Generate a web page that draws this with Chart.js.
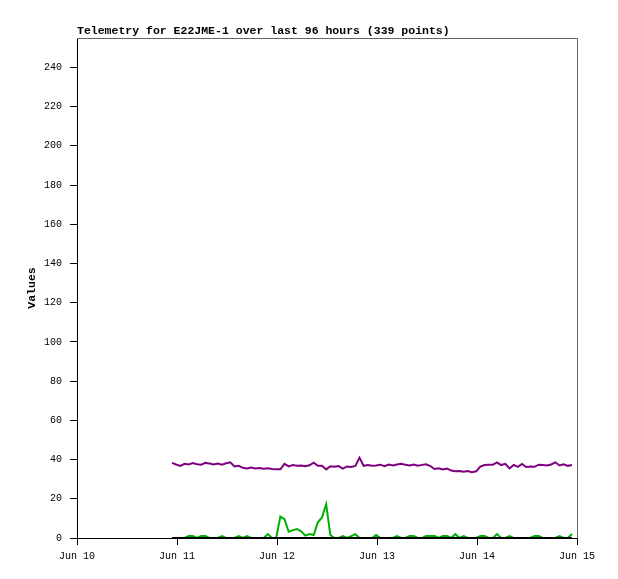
<!DOCTYPE html>
<html>
<head>
<meta charset="utf-8">
<script src="https://cdn.jsdelivr.net/npm/chart.js@4/dist/chart.umd.min.js"></script>
<style>
  html, body { margin: 0; padding: 0; background: #fff; }
  canvas { display: block; }
</style>
</head>
<body>
<canvas id="chart" width="618" height="579"></canvas>
<script>
// telemetry, one sample per hour starting Jun 10 ~22:50
var START_DAY = 10.95;
var STEP_DAYS = 1 / 24;

var purpleValues = [
  38.3, 37.5, 36.8, 37.8, 37.5, 38.2, 37.6, 37.4, 38.3, 38.0,
  37.5, 38.0, 37.4, 38.1, 38.6, 36.5, 36.8, 35.8, 35.5, 35.9,
  35.5, 35.7, 35.3, 35.6, 35.2, 35.0, 35.0, 37.8, 36.5, 37.2,
  36.8, 37.0, 36.6, 37.1, 38.4, 36.8, 36.9, 35.0, 36.6, 36.3,
  36.7, 35.4, 36.5, 36.2, 36.8, 41.0, 36.8, 37.2, 36.8, 37.0,
  37.4, 36.6, 37.5, 37.0, 37.5, 37.8, 37.4, 37.0, 37.5, 36.9,
  37.3, 37.6, 36.7, 35.2, 35.6, 34.9, 35.4, 34.4, 34.0, 34.2,
  33.8, 34.2, 33.6, 34.0, 36.4, 37.2, 37.3, 37.4, 38.6, 37.2,
  37.8, 35.5, 37.3, 36.3, 37.8, 36.2, 36.5, 36.3, 37.4, 37.2,
  37.0, 37.5, 38.6, 37.0, 37.6, 36.8, 37.2
];

var greenValues = [
  0, 0, 0, 0, 1, 1, 0, 1, 1, 0,
  0, 0, 1, 0, 0, 0, 1, 0, 1, 0,
  0, 0, 0, 2, 0, 0, 10.9, 9.6, 3.2, 4.0,
  4.6, 3.4, 1.2, 2.0, 1.5, 8.0, 10.5, 17.2, 1.5, 0,
  0, 1, 0, 1, 2, 0, 0, 0, 0, 1.5,
  0, 0, 0, 0, 1, 0, 0, 1, 1, 0,
  0, 1, 1, 1, 0, 1, 1, 0, 2, 0,
  1, 0, 0, 0, 1, 1, 0, 0, 2, 0,
  0, 1, 0, 0, 0, 0, 0, 1, 1, 0,
  0, 0, 0, 1, 0, 0, 2
];

var blackValues = [
  0, 0, 0, 0, 0, 0, 0, 0, 0, 0,
  0, 0, 0, 0, 0, 0, 0, 0, 0, 0,
  0, 0, 0, 0, 0, 0, 0, 0, 0, 0,
  0, 0, 0, 0, 0, 0, 0, 0, 0, 0,
  0, 0, 0, 0, 0, 0, 0, 0, 0, 0,
  0, 0, 0, 0, 0, 0, 0, 0, 0, 0,
  0, 0, 0, 0, 0, 0, 0, 0, 0, 0,
  0, 0, 0, 0, 0, 0, 0, 0, 0, 0,
  0, 0, 0, 0, 0, 0, 0, 0, 0, 0,
  0, 0, 0, 0, 0, 0, 0
];

var dayTicks = [10, 11, 12, 13, 14, 15];
var monthName = 'Jun';

var TITLE = 'Telemetry for E22JME-1 over last 96 hours (339 points)';

function toPoints(values) {
  return values.map(function (v, i) {
    return { x: START_DAY + i * STEP_DAYS, y: v };
  });
}

// gray frame on top/right and the title, like the original image
var framePlugin = {
  id: 'frame',
  beforeDatasetsDraw: function (chart) {
    var ctx = chart.ctx, a = chart.chartArea;
    ctx.save();
    ctx.strokeStyle = '#666';
    ctx.lineWidth = 1;
    ctx.beginPath();
    ctx.moveTo(a.left, a.top + 0.5);
    ctx.lineTo(a.right + 0.5, a.top + 0.5);
    ctx.lineTo(a.right + 0.5, a.bottom);
    ctx.stroke();
    ctx.restore();
  },
  afterDraw: function (chart) {
    var ctx = chart.ctx, a = chart.chartArea;
    ctx.save();
    ctx.fillStyle = '#000';
    ctx.font = 'bold 11.5px "Liberation Mono", monospace';
    ctx.textAlign = 'left';
    ctx.textBaseline = 'middle';
    ctx.fillText(TITLE, a.left, 31);
    ctx.restore();
  }
};

var ctx = document.getElementById('chart').getContext('2d');
new Chart(ctx, {
  type: 'line',
  data: {
    datasets: [
      {
        label: 'black',
        data: toPoints(blackValues),
        borderColor: '#000000',
        borderWidth: 2,
        pointRadius: 0,
        tension: 0,
        clip: false
      },
      {
        label: 'green',
        data: toPoints(greenValues),
        borderColor: '#00b000',
        borderWidth: 2,
        pointRadius: 0,
        tension: 0,
        clip: false
      },
      {
        label: 'purple',
        data: toPoints(purpleValues),
        borderColor: '#7f007f',
        borderWidth: 2,
        pointRadius: 0,
        tension: 0,
        clip: false
      }
    ]
  },
  options: {
    responsive: false,
    animation: false,
    layout: { padding: { left: 0, right: 41, top: 38, bottom: 0 } },
    plugins: {
      legend: { display: false },
      tooltip: { enabled: false },
      title: { display: false }
    },
    scales: {
      x: {
        type: 'linear',
        min: 10,
        max: 15,
        afterFit: function (scale) { scale.height = 41; },
        afterBuildTicks: function (scale) {
          scale.ticks = dayTicks.map(function (d) { return { value: d }; });
        },
        border: { color: '#000', width: 1 },
        grid: { drawOnChartArea: false, color: '#000', tickLength: 7, tickWidth: 1 },
        ticks: {
          color: '#000',
          padding: 5,
          maxRotation: 0,
          font: { family: '"Liberation Mono", monospace', size: 10 },
          callback: function (v) { return monthName + ' ' + v; }
        }
      },
      y: {
        min: 0,
        max: 255,
        afterFit: function (scale) { scale.width = 77; },
        border: { color: '#000', width: 1 },
        grid: { drawOnChartArea: false, color: '#000', tickLength: 7, tickWidth: 1 },
        ticks: {
          stepSize: 20,
          includeBounds: false,
          color: '#000',
          padding: 8,
          font: { family: '"Liberation Mono", monospace', size: 10 }
        },
        title: {
          display: true,
          text: 'Values',
          color: '#000',
          font: { family: '"Liberation Mono", monospace', size: 11.5, weight: 'bold' },
          padding: { top: 25, bottom: 0 }
        }
      }
    }
  },
  plugins: [framePlugin]
});
</script>
</body>
</html>
